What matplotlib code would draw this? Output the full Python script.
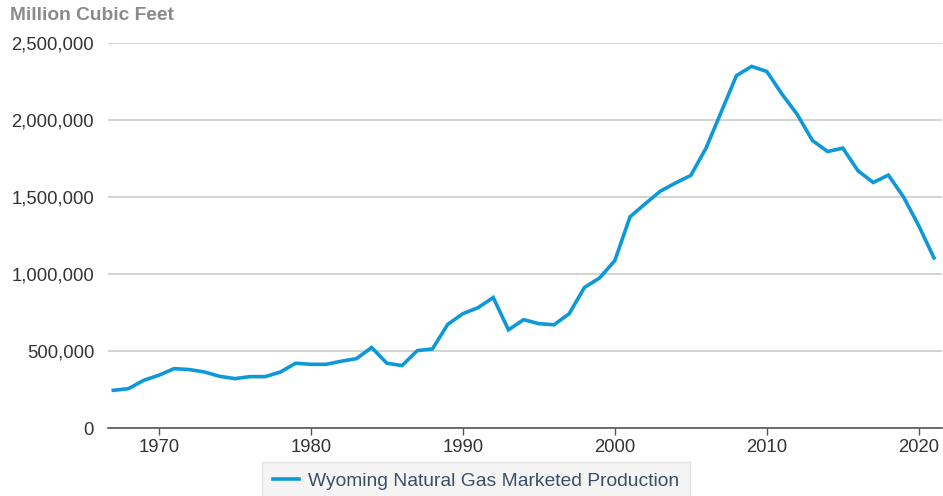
import matplotlib
matplotlib.use("Agg")
import matplotlib.pyplot as plt
from matplotlib.ticker import FuncFormatter

plt.rcParams['font.family'] = ['Liberation Sans', 'DejaVu Sans']

# Wyoming natural gas marketed production, million cubic feet
years = list(range(1967, 2022))
production = [
    245000, 256000, 310000, 343000, 386000, 380000, 364000, 336000, 321000, 334000,
    334000, 364000, 421000, 414000, 414000, 434000, 451000, 523000, 421000, 406000,
    503000, 514000, 673000, 743000, 782000, 848000, 638000, 704000, 678000, 671000,
    743000, 913000, 975000, 1088000, 1372000, 1457000, 1539000, 1592000, 1641000, 1818000,
    2053000, 2289000, 2349000, 2316000, 2169000, 2037000, 1868000, 1796000, 1818000, 1671000,
    1595000, 1643000, 1500000, 1314000, 1105000,
]
y_ticks = [0, 500000, 1000000, 1500000, 2000000, 2500000]
x_ticks = [1970, 1980, 1990, 2000, 2010, 2020]

fig = plt.figure(figsize=(9.43, 4.96), dpi=100)
ax = fig.add_axes([0.1145, 0.137, 0.884, 0.776])

ax.plot(years, production, color='#0d99d9', lw=2.6, solid_joinstyle='miter',
        label='Wyoming Natural Gas Marketed Production')

ax.set_ylim(0, 2500000)
ax.set_xlim(1966.65, 2021.5)
ax.set_yticks(y_ticks)
ax.set_xticks(x_ticks)
ax.yaxis.set_major_formatter(FuncFormatter(lambda v, p: f'{int(v):,}'))
ax.grid(axis='y', color='#cccccc', lw=1.2)
ax.set_axisbelow(True)

for s in ['top', 'right', 'left']:
    ax.spines[s].set_visible(False)
ax.spines['bottom'].set_color('#555555')
ax.spines['bottom'].set_linewidth(1.2)

ax.tick_params(axis='y', length=0, pad=10, labelsize=13.3, labelcolor='#333333')
ax.tick_params(axis='x', length=5, width=1, color='#555555', pad=3,
               labelsize=13.3, labelcolor='#333333')

fig.text(0.011, 0.968, 'Million Cubic Feet', fontsize=13.8, fontweight='bold',
         color='#8a8a8a', ha='left', va='center')

leg = fig.legend(loc='upper left', bbox_to_anchor=(262 / 943, 1 - 462 / 496),
                 borderaxespad=0, frameon=True, fancybox=False, fontsize=13.9,
                 handlelength=1.35, handletextpad=0.5, borderpad=0.55,
                 labelcolor='#3b5068')
leg.get_frame().set_facecolor('#f2f2f2')
leg.get_frame().set_edgecolor('#dddddd')

fig.savefig('out.png', dpi=100)
